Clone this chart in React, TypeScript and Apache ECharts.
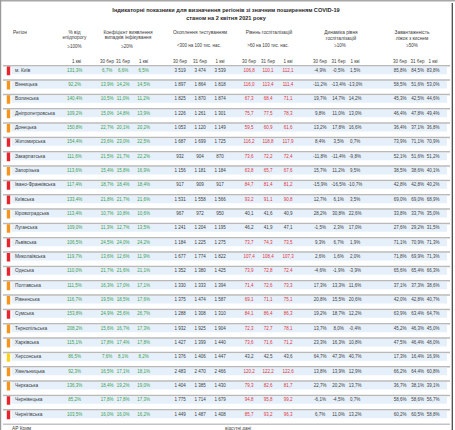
import React, { useEffect, useRef } from "react";
import * as echarts from "echarts";

// ---------- DATA ----------
const regions = [
  "м. Київ", "Вінницька", "Волинська", "Дніпропетровська", "Донецька", "Житомирська",
  "Закарпатська", "Запорізька", "Івано-Франківська", "Київська", "Кіровоградська", "Луганська",
  "Львівська", "Миколаївська", "Одеська", "Полтавська", "Рівненська", "Сумська",
  "Тернопільська", "Харківська", "Херсонська", "Хмельницька", "Черкаська", "Чернівецька",
  "Чернігівська",
];
const zoneLevels = [
  "red", "orange", "orange", "orange", "orange", "red",
  "red", "orange", "red", "red", "orange", "orange",
  "red", "red", "red", "orange", "orange", "red",
  "orange", "orange", "yellow", "orange", "orange", "red",
  "red",
];
const dateLabels = ["30 бер", "31 бер", "1 кві"];
const pctOfThreshold = [
  131.3, 92.2, 140.4, 109.2, 150.8, 154.4, 111.6, 113.6, 117.4, 133.4, 113.4, 109.0,
  106.5, 119.7, 110.0, 111.5, 116.7, 153.8, 208.2, 115.1, 86.5, 92.3, 136.3, 85.2, 103.5,
];
const detectionCoef = [
  [6.7, 6.6, 6.5], [13.9, 14.2, 14.5], [10.5, 11.0, 11.2], [15.0, 14.8, 13.9], [22.7, 20.1, 20.2],
  [23.6, 23.0, 22.5], [21.5, 21.7, 22.2], [15.4, 15.8, 16.9], [18.7, 18.4, 18.4], [21.8, 21.7, 21.6],
  [10.7, 10.8, 10.6], [11.3, 12.7, 13.5], [24.5, 24.0, 24.2], [13.6, 12.6, 11.9], [21.7, 21.6, 21.1],
  [16.3, 17.0, 17.1], [19.5, 18.5, 17.6], [24.9, 25.6, 26.7], [15.6, 16.7, 17.3], [17.8, 17.4, 17.8],
  [7.6, 8.1, 8.2], [16.5, 17.1, 18.1], [18.4, 19.2, 19.0], [17.8, 17.8, 17.3], [16.0, 16.0, 16.2],
];
const testingCoverage = [
  [3519, 3474, 3539], [1897, 1864, 1818], [1825, 1870, 1874], [1226, 1261, 1301], [1053, 1120, 1149],
  [1687, 1699, 1725], [932, 904, 870], [1156, 1181, 1184], [917, 909, 917], [1531, 1558, 1566],
  [967, 972, 950], [1241, 1204, 1195], [1184, 1225, 1275], [1677, 1774, 1822], [1352, 1380, 1425],
  [1330, 1333, 1394], [1375, 1474, 1587], [1288, 1308, 1310], [1932, 1925, 1904], [1427, 1399, 1440],
  [1376, 1406, 1447], [2483, 2470, 2466], [1404, 1385, 1430], [1775, 1714, 1679], [1449, 1487, 1408],
];
const hospitalization = [
  [106.8, 110.1, 112.1], [116.0, 113.4, 111.4], [67.3, 68.4, 71.1], [75.7, 77.5, 78.3], [59.5, 60.9, 61.6],
  [116.2, 118.8, 117.9], [73.6, 72.2, 72.4], [63.8, 65.7, 67.6], [84.7, 81.4, 81.2], [93.2, 91.1, 90.8],
  [40.1, 41.6, 40.9], [46.2, 41.9, 47.1], [73.7, 74.3, 73.5], [107.4, 108.4, 107.3], [73.9, 72.8, 72.4],
  [71.4, 72.6, 73.3], [69.1, 71.1, 75.1], [84.1, 86.4, 86.3], [72.3, 72.7, 78.1], [73.6, 71.6, 71.2],
  [43.2, 42.5, 43.6], [120.2, 122.2, 122.6], [79.3, 82.6, 81.7], [94.8, 95.8, 99.2], [85.7, 93.2, 96.3],
];
const hospitalizationDynamics = [
  [-4.9, -0.5, 1.5], [-11.2, -13.4, -13.0], [19.7, 14.7, 14.2], [9.8, 11.0, 13.0], [13.2, 17.8, 16.6],
  [8.4, 3.5, 0.7], [-11.8, -11.4, -9.8], [15.7, 11.2, 9.5], [-15.9, -16.5, -10.7], [12.7, 6.1, 3.5],
  [28.2, 30.8, 22.6], [-1.5, 2.3, 17.0], [9.3, 6.7, 1.9], [2.6, 1.6, 2.0], [-4.6, -1.9, -3.9],
  [17.3, 13.3, 11.6], [20.8, 15.5, 20.6], [19.2, 18.7, 12.2], [13.7, 8.0, -0.4], [23.3, 16.3, 10.8],
  [64.7, 47.3, 40.7], [13.8, 13.9, 12.9], [22.7, 20.2, 13.7], [-6.1, -4.5, 0.7], [6.7, 11.0, 13.2],
];
const oxygenBedLoad = [
  [85.8, 84.5, 83.8], [58.5, 51.6, 53.0], [45.3, 42.5, 44.6], [46.4, 47.8, 49.4], [36.4, 37.1, 36.8],
  [73.9, 71.1, 70.9], [52.1, 51.6, 51.2], [38.5, 38.6, 40.1], [42.8, 42.8, 40.2], [69.0, 69.0, 68.9],
  [33.8, 33.7, 35.0], [27.6, 29.2, 31.5], [71.1, 70.9, 71.3], [71.8, 69.9, 71.3], [65.6, 65.4, 66.3],
  [37.1, 37.3, 38.6], [42.0, 42.8, 40.7], [63.9, 63.4, 64.7], [45.2, 46.3, 45.0], [47.5, 46.4, 48.0],
  [17.3, 16.4, 16.9], [66.2, 64.4, 60.8], [36.7, 38.1, 39.1], [58.6, 58.6, 56.7], [60.2, 60.5, 58.8],
];

// ---------- LAYOUT / STYLE ----------
const FONT = "'Liberation Sans Narrow', 'Liberation Sans', Arial, sans-serif";
const VAL_SIZE = 4.5;
const COL_PCT = 74.5;
const COL_COEF = [107, 123, 143.5];
const COL_TEST = [180, 200, 220];
const COL_HOSP = [249, 268, 288];
const COL_DYN = [320, 338.5, 355];
const COL_BEDS = [400, 417.5, 433];
const zoneColor: Record<string, string> = { red: "#e8242c", orange: "#f7941d", yellow: "#ffd21f" };
const GREEN = "#3a9d50";
const RED = "#e0323c";
const DARK = "#3c3c3c";

const fmtPct = (v: number) => v.toFixed(1).replace(".", ",") + "%";
const fmtDec = (v: number) => v.toFixed(1).replace(".", ",");
const fmtInt = (v: number) => {
  const s = String(Math.round(v));
  return s.length > 3 ? s.slice(0, s.length - 3) + " " + s.slice(-3) : s;
};

const txt = (x: number, y: number, text: string, fill: string, size = VAL_SIZE, align = "center", weight = "normal") => ({
  type: "text",
  x,
  y,
  style: { text, fill, fontSize: size, fontFamily: FONT, fontWeight: weight, align, verticalAlign: "middle" },
});

export default function App() {
  const ref = useRef<HTMLDivElement>(null);
  useEffect(() => {
    if (!ref.current) return;
    const chart = echarts.init(ref.current, null, { renderer: "svg" });

    const headerGraphics: any[] = [
      // frame
      { type: "line", shape: { x1: 0, y1: 0.8, x2: 455, y2: 0.8 }, style: { stroke: "#a8a8a8", lineWidth: 1.6 } },
      { type: "line", shape: { x1: 0.6, y1: 0, x2: 0.6, y2: 430 }, style: { stroke: "#9a9a9a", lineWidth: 1.2 } },
      { type: "line", shape: { x1: 452.3, y1: 3, x2: 452.3, y2: 430 }, style: { stroke: "#4a4a4a", lineWidth: 1.3 } },
      txt(226, 10, "Індикаторні показники для визначення регіонів зі значним поширенням COVID-19", "#2a2a2a", 5.6, "center", "bold"),
      txt(226, 18, "станом на 2 квітня 2021 року", "#2a2a2a", 5.6, "center", "bold"),
      txt(13, 32.5, "Регіон", DARK, 4.8, "left"),
      txt(COL_PCT, 32.3, "% від", DARK, 4.8),
      txt(COL_PCT, 37.7, "епідпорогу", DARK, 4.8),
      txt(COL_PCT, 46.5, "≥100%", DARK),
      txt(128, 32.3, "Коефіцієнт виявлення", DARK, 4.8),
      txt(128, 37.7, "випадків інфікування", DARK, 4.8),
      txt(127, 46.5, "≥20%", DARK),
      txt(200, 32.7, "Охоплення тестуванням", DARK, 4.8),
      txt(199, 45, "<300 на 100 тис. нас.", DARK),
      txt(269, 32.7, "Рівень госпіталізацій", DARK, 4.8),
      txt(268, 45, ">60 на 100 тис. нас.", DARK),
      txt(341, 32.7, "Динаміка рівня", DARK, 4.8),
      txt(341, 38.3, "госпіталізацій", DARK, 4.8),
      txt(340, 45.7, "≥10%", DARK),
      txt(412, 32.7, "Завантаженість", DARK, 4.8),
      txt(412, 38.3, "ліжок з киснем", DARK, 4.8),
      txt(412, 45.7, "≥50%", DARK),
      txt(COL_PCT + 2, 61, dateLabels[2], DARK),
      ...[COL_COEF, COL_TEST, COL_HOSP, COL_DYN, COL_BEDS].flatMap((cols) =>
        cols.map((x, k) => txt(x, 61, dateLabels[k], DARK))
      ),
      txt(12, 428.5, "АР Крим", DARK, 4.8, "left"),
      txt(238, 428.5, "відсутні дані", DARK),
    ];

    const option: any = {
      animation: false,
      grid: { left: 0, right: 0, top: 63, height: 358.3 },
      xAxis: { type: "value", min: 0, max: 455, show: false },
      yAxis: { type: "category", data: regions, inverse: true, show: false },
      graphic: headerGraphics,
      series: [
        {
          type: "custom",
          data: regions.map((_, i) => [0, i]),
          renderItem: (params: any, api: any) => {
            const i = api.value(1) as number;
            const c = api.coord([0, i])[1];
            const X = (v: number) => api.coord([v, i])[0];
            const ch: any[] = [];
            ch.push({ type: "line", shape: { x1: X(3), y1: c - 4.4, x2: X(450), y2: c - 4.4 }, style: { stroke: "#b9b9b9", lineWidth: 1.5 } });
            ch.push({ type: "rect", shape: { x: X(11.5), y: c - 3.4, width: X(447) - X(11.5), height: 7.4 }, style: { fill: "#e6f0fa" } });
            ch.push({ type: "rect", shape: { x: X(6.8), y: c - 3.6, width: 3.4, height: 8.6 }, style: { fill: zoneColor[zoneLevels[i]] } });
            ch.push(txt(X(15), c, regions[i], DARK, 4.8, "left"));
            ch.push(txt(X(COL_PCT), c, fmtPct(pctOfThreshold[i]), GREEN));
            COL_COEF.forEach((x, k) => ch.push(txt(X(x), c, fmtPct(detectionCoef[i][k]), GREEN)));
            COL_TEST.forEach((x, k) => ch.push(txt(X(x), c, fmtInt(testingCoverage[i][k]), DARK)));
            COL_HOSP.forEach((x, k) => {
              const v = hospitalization[i][k];
              ch.push(txt(X(x), c, fmtDec(v), v > 50 ? RED : DARK));
            });
            COL_DYN.forEach((x, k) => ch.push(txt(X(x), c, fmtPct(hospitalizationDynamics[i][k]), DARK)));
            COL_BEDS.forEach((x, k) => ch.push(txt(X(x), c, fmtPct(oxygenBedLoad[i][k]), DARK)));
            if (i === regions.length - 1) {
              const yb = c + 10;
              ch.push({ type: "line", shape: { x1: X(3), y1: yb, x2: X(450), y2: yb }, style: { stroke: "#c4c4c4", lineWidth: 1.5 } });
            }
            return { type: "group", children: ch };
          },
        },
      ],
    };
    chart.setOption(option);
    return () => chart.dispose();
  }, []);

  return (
    <div
      ref={ref}
      style={{ position: "fixed", left: 0, top: 0, width: 455, height: 430, background: "#ffffff" }}
    />
  );
}
